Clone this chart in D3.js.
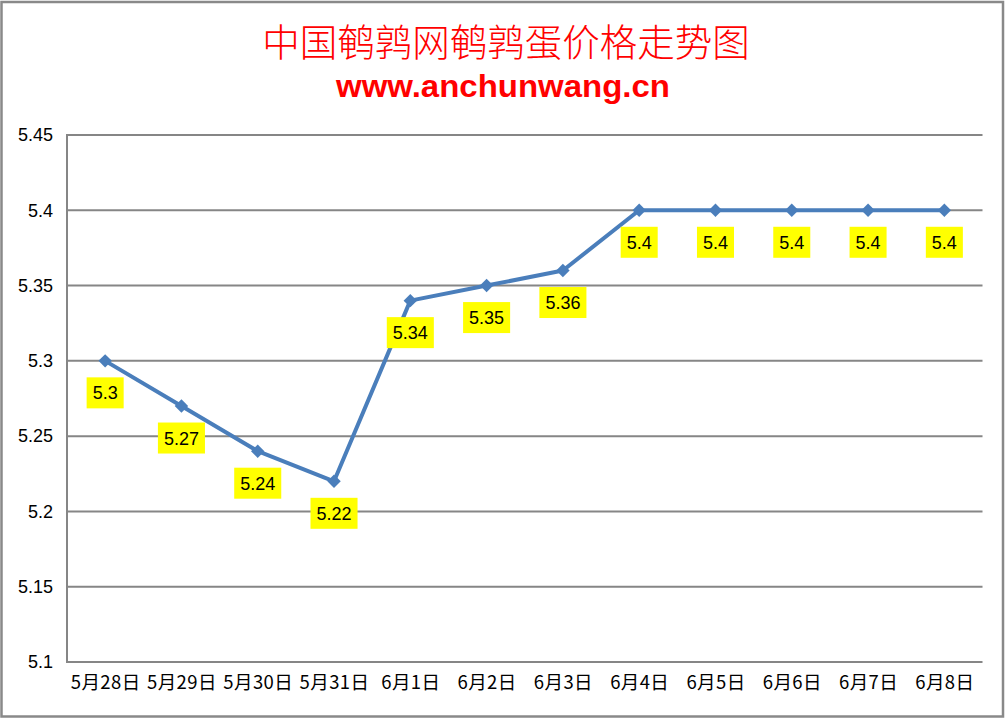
<!DOCTYPE html>
<html><head><meta charset="utf-8">
<script src="https://cdn.jsdelivr.net/npm/d3@7"></script>
<style>body{margin:0;background:#fff}svg{display:block}</style>
</head><body>
<script>
const categories = ["5月28日","5月29日","5月30日","5月31日","6月1日","6月2日","6月3日","6月4日","6月5日","6月6日","6月7日","6月8日"];
const prices = [5.3,5.27,5.24,5.22,5.34,5.35,5.36,5.4,5.4,5.4,5.4,5.4];
const yTicks = [5.1,5.15,5.2,5.25,5.3,5.35,5.4,5.45];
const titleText = "中国鹌鹑网鹌鹑蛋价格走势图";
const subtitleText = "www.anchunwang.cn";

(function(){
const W = 1007, H = 719;
const svg = d3.select("body").append("svg").attr("width", W).attr("height", H);
svg.append("rect").attr("x",1.5).attr("y",2).attr("width",1001.5).attr("height",714.5)
  .attr("fill","#fff").attr("stroke","#898989").attr("stroke-width",2.5);

const pL = 67, pR = 982.5, pT = 135, pB = 662;
const x = d3.scalePoint().domain(categories).range([pL, pR]).padding(0.5);
const y = d3.scaleLinear().domain([5.1, 5.45]).range([pB, pT]);

// gridlines
svg.append("g").selectAll("line").data(yTicks).join("line")
  .attr("x1", pL).attr("x2", pR).attr("y1", d => y(d)).attr("y2", d => y(d))
  .attr("stroke", "#868686").attr("stroke-width", 2);
svg.append("line").attr("x1", pL).attr("x2", pL).attr("y1", pT - 1).attr("y2", pB + 1)
  .attr("stroke", "#868686").attr("stroke-width", 2);

// y axis labels
const yAxis = d3.axisLeft(y).tickValues(yTicks).tickSize(0).tickPadding(14).tickFormat(d => String(+d.toFixed(2)));
const gy = svg.append("g").attr("transform", `translate(${pL},0)`).call(yAxis);
gy.select(".domain").remove();
gy.selectAll("text").attr("font-family","'Liberation Sans', Arial, sans-serif").attr("font-size",18).attr("fill","#000");

// x axis labels
const xAxis = d3.axisBottom(x).tickSize(0).tickPadding(18);
const gx = svg.append("g").attr("transform", `translate(0,${pB})`).call(xAxis);
gx.select(".domain").remove();
gx.selectAll("text").attr("font-family","'Noto Sans CJK SC', sans-serif").attr("font-size",18.5).attr("fill","#000")
  .attr("dy","0.5em").style("letter-spacing","0.4px");

// line
const line = d3.line().x((d,i) => x(categories[i])).y(d => y(d));
svg.append("path").datum(prices).attr("d", line).attr("fill","none")
  .attr("stroke","#4A7EBB").attr("stroke-width",4).attr("stroke-linejoin","round");

// markers
svg.append("g").selectAll("path").data(prices).join("path")
  .attr("d", d3.symbol().type(d3.symbolDiamond2).size(115))
  .attr("transform", (d,i) => `translate(${x(categories[i])},${y(d)})`)
  .attr("fill","#4A7EBB");

// data labels
const lg = svg.append("g").selectAll("g").data(prices).join("g")
  .attr("transform", (d,i) => `translate(${x(categories[i])},${y(d) + 32})`);
lg.each(function(d){
  const g = d3.select(this);
  const t = g.append("text").text(String(d)).attr("text-anchor","middle").attr("dy","0.36em")
    .attr("font-family","'Liberation Sans', Arial, sans-serif").attr("font-size",18).attr("fill","#000");
  const w = t.node().getComputedTextLength() + 12;
  g.insert("rect","text").attr("x",-w/2).attr("y",-15.5).attr("width",w).attr("height",31).attr("fill","#FFFF00");
});

// titles
svg.append("text").attr("x",506).attr("y",39).attr("text-anchor","middle").attr("dominant-baseline","central")
  .attr("font-family","'Noto Sans CJK SC', sans-serif").attr("font-size",37.5).attr("font-weight",300)
  .attr("fill","#FF0000").text(titleText);
svg.append("text").attr("x",503).attr("y",97).attr("text-anchor","middle")
  .attr("font-family","'Liberation Sans', Arial, sans-serif").attr("font-size",31).attr("font-weight","bold")
  .attr("fill","#FF0000").attr("textLength",334).attr("lengthAdjust","spacingAndGlyphs").text(subtitleText);
})();
</script>
</body></html>
